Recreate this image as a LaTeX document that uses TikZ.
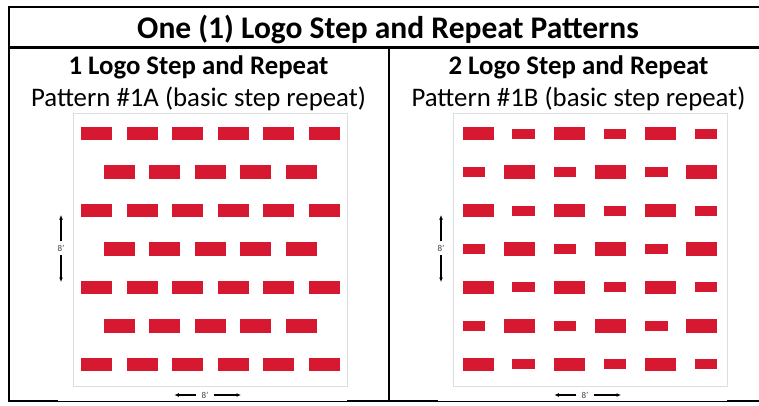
\documentclass[tikz,border=0pt]{standalone}
\usepackage{fontspec}
\setmainfont{Carlito}
\usetikzlibrary{arrows.meta}
\definecolor{logored}{RGB}{214,24,48}
\definecolor{framegray}{RGB}{222,222,222}
\tikzset{
  rule/.style={line width=2.3pt},
  thinrule/.style={line width=0.8pt},
  headtext/.style={anchor=base,inner sep=0pt,font=\bfseries\fontsize{31.5}{34}\selectfont},
  subtext/.style={anchor=base,inner sep=0pt,font=\bfseries\fontsize{26.8}{30}\selectfont},
  pattext/.style={anchor=base,inner sep=0pt,font=\fontsize{26.8}{30}\selectfont},
  dimlabel/.style={font=\fontsize{9}{10}\selectfont,text=black!75,inner xsep=5pt,inner ysep=3.5pt},
  dimarrow/.style={line width=1.1pt,-{Latex[length=4.5pt,width=4pt]}},
  patframe/.style={draw=framegray,line width=0.7pt}
}
\begin{document}
\begin{tikzpicture}[x=1pt,y=-1pt]
\useasboundingbox (0,0) rectangle (759,405);
% table rules
\draw[rule] (9.3,401.2) -- (9.3,7) -- (759,7);
\draw[rule] (9.3,47.5) -- (759,47.5);
\draw[rule] (389,47.5) -- (389,401.2);
\draw[thinrule] (9,401.8) -- (759,401.8);
\draw[rule] (8.2,401.2) -- (58,401.2);
\draw[rule] (347,401.2) -- (438,401.2);
\draw[rule] (727,401.2) -- (759,401.2);
% headings
\node[headtext] (title) at (388,38.3) {One (1) Logo Step and Repeat Patterns};
\node[subtext] (subA) at (198.5,74) {1 Logo Step and Repeat};
\node[pattext] (patA) at (198.5,106) {Pattern \#1A (basic step repeat)};
\node[subtext] (subB) at (578.5,74) {2 Logo Step and Repeat};
\node[pattext] (patB) at (578.5,106) {Pattern \#1B (basic step repeat)};
% pattern frames
\draw[patframe] (73,113) rectangle (347,386);
\draw[patframe] (453,113) rectangle (727,386);
% pattern 1A
\foreach \r in {0,...,6}{
  \pgfmathsetmacro\yc{133.7+38.43*\r}
  \ifodd\r
    \foreach \c in {0,...,4}{\fill[logored] ({103.7+45.55*\c},{\yc-6.65}) rectangle ++(31,13.3);}
  \else
    \foreach \c in {0,...,5}{\fill[logored] ({81+45.55*\c},{\yc-6.65}) rectangle ++(31,13.3);}
  \fi
}
% pattern 1B
\foreach \r in {0,...,6}{
  \pgfmathsetmacro\yc{133.7+38.43*\r}
  \foreach \k in {0,1,2}{
    \pgfmathsetmacro\xa{462.7+91.1*\k}
    \ifodd\r
      \fill[logored] (\xa,{\yc-5}) rectangle ++(22.6,10);
      \fill[logored] ({\xa+41.3},{\yc-6.65}) rectangle ++(31,13.3);
    \else
      \fill[logored] (\xa,{\yc-6.65}) rectangle ++(31,13.3);
      \fill[logored] ({\xa+49.7},{\yc-5}) rectangle ++(22.6,10);
    \fi
  }
}
% dimensions
\node[dimlabel] (vdimA) at (61,248.3) {8’};
\coordinate (vtopA) at (61,215);
\coordinate (vbotA) at (61,282);
\draw[dimarrow] (vdimA.north) -- (vtopA);
\draw[dimarrow] (vdimA.south) -- (vbotA);
\node[dimlabel] (hdimA) at (205,395) {8’};
\coordinate (hlftA) at (174.3,395);
\coordinate (hrgtA) at (241,395);
\draw[dimarrow] (hdimA.west) -- (hlftA);
\draw[dimarrow] (hdimA.east) -- (hrgtA);
\node[dimlabel] (vdimB) at (441,248.3) {8’};
\coordinate (vtopB) at (441,215);
\coordinate (vbotB) at (441,282);
\draw[dimarrow] (vdimB.north) -- (vtopB);
\draw[dimarrow] (vdimB.south) -- (vbotB);
\node[dimlabel] (hdimB) at (585,395) {8’};
\coordinate (hlftB) at (554.3,395);
\coordinate (hrgtB) at (621,395);
\draw[dimarrow] (hdimB.west) -- (hlftB);
\draw[dimarrow] (hdimB.east) -- (hrgtB);
\end{tikzpicture}
\end{document}
